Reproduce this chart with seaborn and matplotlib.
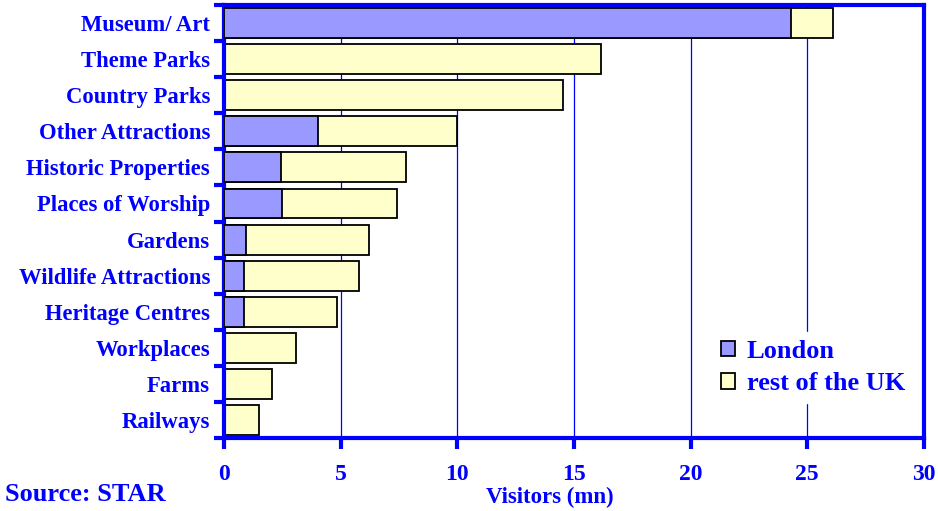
import numpy as np
import pandas as pd
import matplotlib.pyplot as plt
import seaborn as sns

# Dane
kategorie = ['Museum/ Art', 'Theme Parks', 'Country Parks', 'Other Attractions',
             'Historic Properties', 'Places of Worship', 'Gardens',
             'Wildlife Attractions', 'Heritage Centres', 'Workplaces', 'Farms', 'Railways']
london = [24.3, 0, 0, 4.05, 2.45, 2.5, 0.93, 0.86, 0.86, 0, 0, 0]
reszta = [1.8, 16.15, 14.55, 5.95, 5.35, 4.93, 5.29, 4.92, 3.97, 3.1, 2.07, 1.5]

niebieski = '#0000FF'
kolor_london = '#9999FF'
kolor_reszta = '#FFFFCC'

df = pd.DataFrame({'Kategoria': kategorie, 'London': london, 'Reszta': reszta})
df['Suma'] = df['London'] + df['Reszta']

sns.set_style('white')
plt.rcParams['font.family'] = ['Liberation Serif', 'DejaVu Serif']
plt.rcParams['font.weight'] = 'bold'

fig, ax = plt.subplots(figsize=(9.38, 5.11), dpi=100)
fig.subplots_adjust(left=0.2388, right=0.985, top=0.990, bottom=0.143)

# Siatka pionowa
for xv in [5, 10, 15, 20, 25]:
    ax.axvline(xv, color=niebieski, lw=0.9, zorder=0)

sns.barplot(data=df, y='Kategoria', x='Suma', orient='h', color=kolor_reszta,
            edgecolor='black', linewidth=1.3, width=0.83, ax=ax, zorder=2,
            label='rest of the UK', saturation=1)
sns.barplot(data=df[df['London'] > 0], y='Kategoria', x='London', orient='h',
            color=kolor_london, edgecolor='black', linewidth=1.3, width=0.83,
            ax=ax, zorder=3, label='London', saturation=1, order=kategorie)

ax.set_xlim(0, 30)
ax.set_ylim(len(kategorie) - 0.5, -0.5)
ax.set_xticks([0, 5, 10, 15, 20, 25, 30])
ax.set_xticklabels(['0', '5', '10', '15', '20', '25', '30'], fontsize=17,
                   color=niebieski, fontweight='bold')

# Znaczniki osi Y na granicach kategorii, etykiety w środku
ax.set_yticks(np.arange(-0.5, len(kategorie), 1))
ax.set_yticklabels([])
ax.set_yticks(np.arange(len(kategorie)), minor=True)
ax.set_yticklabels(kategorie, minor=True, fontsize=16.3, color=niebieski,
                   fontweight='bold')
ax.tick_params(axis='y', which='minor', left=False, length=0, pad=10)
ax.tick_params(axis='y', which='major', left=True, length=7, width=3,
               color=niebieski, direction='out')
ax.tick_params(axis='x', bottom=True, length=8, width=3, color=niebieski,
               direction='out', pad=11)

for s in ax.spines.values():
    s.set_color(niebieski)
    s.set_linewidth(3)
    s.set_visible(True)

ax.set_ylabel('')
ax.set_xlabel('Visitors (mn)', fontsize=16.5, color=niebieski, fontweight='bold')
ax.xaxis.set_label_coords(0.466, -0.114)

handles, labels = ax.get_legend_handles_labels()
order = [labels.index('London'), labels.index('rest of the UK')]
leg = ax.legend([handles[i] for i in order], [labels[i] for i in order],
                loc='lower right', bbox_to_anchor=(1.003, 0.05), frameon=True,
                framealpha=1, edgecolor='white', handlelength=0.52,
                handleheight=0.52, handletextpad=0.45, labelspacing=0.35,
                borderpad=0.3, prop={'weight': 'bold', 'size': 19})
for t in leg.get_texts():
    t.set_color(niebieski)

fig.text(0.005, 0.02, 'Source: STAR', fontsize=19, color=niebieski,
         fontweight='bold')

plt.savefig('out.png', dpi=100)
